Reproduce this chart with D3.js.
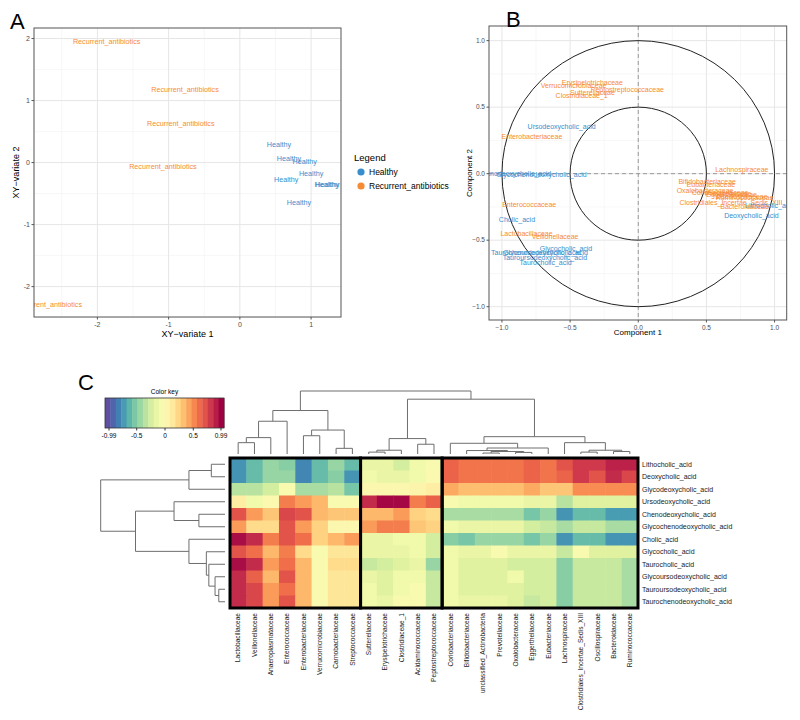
<!DOCTYPE html>
<html><head><meta charset="utf-8">
<script src="https://cdn.jsdelivr.net/npm/d3@7/dist/d3.min.js"></script>
<style>body{margin:0;background:#fff} svg{font-family:"Liberation Sans",Arial,sans-serif}</style>
</head><body><svg id="c" width="800" height="720"></svg>
<script>
// ---------- Panel A data ----------
const aGroups = ["Healthy", "Recurrent_antibiotics"];
const aColors = ["#388ECC", "#F68B33"];
const aHealthyX = [0.55, 0.69, 0.91, 1.00, 0.65, 1.22, 1.23, 0.83];
const aHealthyY = [0.29, 0.07, 0.02, -0.18, -0.27, -0.35, -0.355, -0.64];
const aRecurX = [-1.87, -0.77, -0.83, -1.08, -2.69];
const aRecurY = [1.96, 1.18, 0.63, -0.06, -2.29];
const aTicksX = [-2, -1, 0, 1];
const aTicksY = [-2, -1, 0, 1, 2];

// ---------- Panel B data ----------
const bNames = ["Erysipelotrichaceae","Verrucomicrobiaceae","Peptostreptococcaceae","Sutterellaceae","Clostridiaceae_1",
  "Ursodeoxycholic_acid","Enterobacteriaceae","Chenodeoxycholic_acid","Glycochenodeoxycholic_acid",
  "Lachnospiraceae","Bifidobacteriaceae","Eubacteriaceae","Oxalobacteraceae","Coriobacteriaceae","Prevotellaceae",
  "Eggerthellaceae","Oscillospiraceae","Ruminococcaceae","Clostridiales_Incertae_Sedis_XIII","Lithocholic_acid",
  "Bacteroidaceae","Deoxycholic_acid","Enterococcaceae","Cholic_acid","Lactobacillaceae","Veillonellaceae",
  "Glycocholic_acid","Taurochenodeoxycholic_acid","Glycoursodeoxycholic_acid","Tauroursodeoxycholic_acid","Taurocholic_acid"];
const bX = [-0.337,-0.474,-0.08,-0.336,-0.415, -0.562,-0.78,-0.91,-0.71, 0.76,0.506,0.533,0.49,0.60,0.66,
  0.685,0.76,0.78,0.68,0.966, 0.78,0.83,-0.80,-0.89,-0.82,-0.61, -0.53,-0.75,-0.68,-0.685,-0.68];
const bY = [0.687,0.666,0.629,0.608,0.589, 0.355,0.282,0.005,-0.006, 0.032,-0.062,-0.081,-0.124,-0.145,-0.147,
  -0.157,-0.17,-0.182,-0.22,-0.237, -0.25,-0.318,-0.23,-0.345,-0.45,-0.47, -0.563,-0.596,-0.595,-0.63,-0.67];
const bType = [1,1,1,1,1, 0,1,0,0, 1,1,1,1,1,1, 1,1,1,1,0, 1,0,1,0,1,1, 0,0,0,0,0];
const bTicks = [-1, -0.5, 0, 0.5, 1];
const bRadii = [1, 0.5];

// ---------- Panel C data ----------
const rowNames = ["Lithocholic_acid","Deoxycholic_acid","Glycodeoxycholic_acid","Ursodeoxycholic_acid",
  "Chenodeoxycholic_acid","Glycochenodeoxycholic_acid","Cholic_acid","Glycocholic_acid","Taurocholic_acid",
  "Glycoursodeoxycholic_acid","Tauroursodeoxycholic_acid","Taurochenodeoxycholic_acid"];
const colNames = ["Lactobacillaceae","Veillonellaceae","Anaeroplasmataceae","Enterococcaceae","Enterobacteriaceae",
  "Verrucomicrobiaceae","Carnobacteriaceae","Streptococcaceae",
  "Sutterellaceae","Erysipelotrichaceae","Clostridiaceae_1","Acidaminococcaceae","Peptostreptococcaceae",
  "Coriobacteriaceae","Bifidobacteriaceae","unclassified_Actinobacteria","Prevotellaceae","Oxalobacteraceae",
  "Eggerthellaceae","Eubacteriaceae","Lachnospiraceae","Clostridiales_Incertae_Sedis_XIII","Oscillospiraceae",
  "Bacteroidaceae","Ruminococcaceae"];
const heat = [
 [-0.75,-0.6,-0.45,-0.5,-0.8,-0.6,-0.45,-0.6,  -0.15,-0.15,-0.25,-0.1,-0.05,  0.64,0.58,0.58,0.58,0.58,0.64,0.58,0.7,0.8,0.8,0.88,0.88],
 [-0.75,-0.6,-0.45,-0.45,-0.8,-0.6,-0.5,-0.75, -0.1,-0.15,-0.15,-0.1,0.0,    0.64,0.58,0.58,0.58,0.58,0.64,0.58,0.64,0.8,0.7,0.85,0.75],
 [-0.35,-0.35,-0.25,-0.05,-0.4,-0.4,-0.35,-0.55, 0.02,0.02,0.02,0.05,0.1,   0.4,0.33,0.33,0.33,0.33,0.4,0.3,0.3,0.5,0.5,0.5,0.5],
 [0.1,-0.1,0.0,0.55,0.45,0.35,-0.05,-0.05,   0.85,0.97,0.97,0.55,0.65,   -0.05,-0.1,-0.1,-0.1,-0.1,-0.15,-0.15,-0.35,-0.2,-0.2,-0.2,-0.2],
 [0.7,0.45,0.3,0.75,0.7,0.35,0.3,0.3,        0.35,0.35,0.45,0.25,0.2,    -0.4,-0.4,-0.4,-0.4,-0.4,-0.55,-0.45,-0.75,-0.6,-0.6,-0.72,-0.72],
 [0.45,0.2,0.2,0.7,0.45,0.25,0.02,0.02,      0.45,0.55,0.55,0.3,0.25,    -0.1,-0.15,-0.15,-0.15,-0.15,-0.25,-0.3,-0.4,-0.3,-0.3,-0.4,-0.4],
 [0.95,0.85,0.55,0.7,0.6,0.25,0.35,0.45,     -0.15,-0.15,-0.1,-0.1,-0.25, -0.5,-0.55,-0.45,-0.45,-0.45,-0.55,-0.45,-0.75,-0.6,-0.6,-0.75,-0.75],
 [0.7,0.6,0.35,0.55,0.2,-0.05,0.15,0.15,     -0.15,-0.15,-0.15,-0.1,-0.25, -0.1,-0.15,-0.15,-0.05,-0.15,-0.15,-0.15,-0.3,-0.05,-0.2,-0.2,-0.2],
 [0.95,0.85,0.45,0.6,0.35,-0.02,0.2,0.2,     -0.3,-0.25,-0.2,-0.15,-0.45, -0.1,-0.2,-0.2,-0.2,-0.25,-0.25,-0.25,-0.5,-0.3,-0.3,-0.3,-0.4],
 [0.85,0.65,0.35,0.7,0.35,-0.02,0.15,0.15,   -0.15,-0.2,-0.1,-0.1,-0.3,  -0.1,-0.2,-0.2,-0.2,-0.1,-0.25,-0.25,-0.5,-0.3,-0.3,-0.3,-0.4],
 [0.85,0.75,0.45,0.6,0.35,-0.02,0.15,0.15,   -0.1,-0.2,-0.1,-0.05,-0.3,  -0.1,-0.2,-0.2,-0.2,-0.2,-0.25,-0.25,-0.5,-0.3,-0.3,-0.3,-0.4],
 [0.85,0.75,0.45,0.7,0.35,-0.02,0.15,0.15,   -0.1,-0.15,-0.05,-0.05,-0.3, -0.1,-0.15,-0.15,-0.15,-0.2,-0.3,-0.25,-0.5,-0.3,-0.3,-0.3,-0.4]
];
const colBlocks = [8, 5, 12];
// dendrograms: [height, left, right]; leaves are indices
const colTree = [10,
  [6.9, [5.2, [2.6, [1.8, 0, 1], 2], 3], [3.8, [2.9, 4, 5], [0.9, 6, 7]]],
  [8.7, [2.45, [0.6, [0.3, 8, 9], 10], [1.55, 11, 12]],
        [2.75, [1.7, 13, [0.95, [0.55, 14, [0.4, [0.15, 15, 16], [0.25, 17, 18]]], 19]],
               [1.8, 20, [0.6, [0.3, 21, 22], [0.4, 23, 24]]]]]];
const rowTree = [10,
  [2.9, [1.1, 0, 1], 2],
  [7.2, [4.1, 3, [2.1, 4, 5]], [2.9, 6, [1.5, 7, [1.3, 8, [0.8, 9, [0.5, 10, 11]]]]]]];
const keyTicks = [-0.99, -0.5, 0, 0.5, 0.99];
const keyLabels = ["-0.99", "-0.5", "0", "0.5", "0.99"];

// ---------- drawing ----------
const svg = d3.select("#c");
const tickCol = "#4d4d4d";

function panelLetter(t, x, y) {
  svg.append("text").attr("x", x).attr("y", y).attr("font-size", 22).attr("fill", "#000").text(t);
}

// Panel A
(function () {
  const L = 34, R = 341, T = 28, B = 317;
  const x = d3.scaleLinear().domain([-2.89, 1.42]).range([L, R]);
  const y = d3.scaleLinear().domain([-2.49, 2.17]).range([B, T]);
  const g = svg.append("g");
  g.append("clipPath").attr("id", "clipA").append("rect").attr("x", L).attr("y", T).attr("width", R - L).attr("height", B - T);
  const minorX = [-2.5, -1.5, -0.5, 0.5], minorY = [-2.5, -1.5, -0.5, 0.5, 1.5];
  g.selectAll(".mx").data(minorX).join("line").attr("x1", d => x(d)).attr("x2", d => x(d)).attr("y1", T).attr("y2", B).attr("stroke", "#f2f2f2").attr("stroke-width", 0.6);
  g.selectAll(".my").data(minorY).join("line").attr("y1", d => y(d)).attr("y2", d => y(d)).attr("x1", L).attr("x2", R).attr("stroke", "#f2f2f2").attr("stroke-width", 0.6);
  g.selectAll(".gx").data(aTicksX).join("line").attr("x1", d => x(d)).attr("x2", d => x(d)).attr("y1", T).attr("y2", B).attr("stroke", "#e6e6e6").attr("stroke-width", 1);
  g.selectAll(".gy").data(aTicksY).join("line").attr("y1", d => y(d)).attr("y2", d => y(d)).attr("x1", L).attr("x2", R).attr("stroke", "#e6e6e6").attr("stroke-width", 1);
  const lab = g.append("g").attr("clip-path", "url(#clipA)").attr("font-size", 7.2).attr("text-anchor", "middle").attr("dominant-baseline", "central");
  lab.selectAll(".h").data(aHealthyX).join("text").attr("x", d => x(d)).attr("y", (d, i) => y(aHealthyY[i])).attr("fill", aColors[0]).text(aGroups[0]);
  lab.selectAll(".r").data(aRecurX).join("text").attr("x", d => x(d)).attr("y", (d, i) => y(aRecurY[i])).attr("fill", aColors[1]).text(aGroups[1]);
  g.append("rect").attr("x", L).attr("y", T).attr("width", R - L).attr("height", B - T).attr("fill", "none").attr("stroke", "#555").attr("stroke-width", 1);
  // ticks
  g.selectAll(".tx").data(aTicksX).join("line").attr("x1", d => x(d)).attr("x2", d => x(d)).attr("y1", B).attr("y2", B + 2.5).attr("stroke", "#555");
  g.selectAll(".ty").data(aTicksY).join("line").attr("y1", d => y(d)).attr("y2", d => y(d)).attr("x1", L - 2.5).attr("x2", L).attr("stroke", "#555");
  g.selectAll(".lx").data(aTicksX).join("text").attr("x", d => x(d)).attr("y", B + 9.5).attr("text-anchor", "middle").attr("font-size", 7).attr("fill", tickCol).text(d => d);
  g.selectAll(".ly").data(aTicksY).join("text").attr("x", L - 4).attr("y", d => y(d) + 2.5).attr("text-anchor", "end").attr("font-size", 7).attr("fill", tickCol).text(d => d);
  g.append("text").attr("x", (L + R) / 2).attr("y", 337).attr("text-anchor", "middle").attr("font-size", 9).text("XY\u2212variate 1");
  g.append("text").attr("transform", `translate(19,${(T + B) / 2}) rotate(-90)`).attr("text-anchor", "middle").attr("font-size", 9).text("XY\u2212variate 2");
  // legend
  g.append("text").attr("x", 354).attr("y", 161).attr("font-size", 9.5).text("Legend");
  aGroups.forEach((n, i) => {
    g.append("circle").attr("cx", 361).attr("cy", 172 + i * 14).attr("r", 3.6).attr("fill", aColors[i]);
    g.append("text").attr("x", 369).attr("y", 175 + i * 14).attr("font-size", 8.5).text(n);
  });
  panelLetter("A", 10, 29);
})();

// Panel B
(function () {
  const L = 489, R = 786.7, T = 26, B = 320;
  const x = d3.scaleLinear().domain([-1.095, 1.089]).range([L, R]);
  const y = d3.scaleLinear().domain([-1.10, 1.11]).range([B, T]);
  const g = svg.append("g");
  g.append("clipPath").attr("id", "clipB").append("rect").attr("x", L).attr("y", T).attr("width", R - L).attr("height", B - T);
  const minor = [-0.75, -0.25, 0.25, 0.75];
  g.selectAll(".mx").data(minor).join("line").attr("x1", d => x(d)).attr("x2", d => x(d)).attr("y1", T).attr("y2", B).attr("stroke", "#f2f2f2").attr("stroke-width", 0.6);
  g.selectAll(".my").data(minor).join("line").attr("y1", d => y(d)).attr("y2", d => y(d)).attr("x1", L).attr("x2", R).attr("stroke", "#f2f2f2").attr("stroke-width", 0.6);
  g.selectAll(".gx").data(bTicks).join("line").attr("x1", d => x(d)).attr("x2", d => x(d)).attr("y1", T).attr("y2", B).attr("stroke", "#e6e6e6").attr("stroke-width", 1);
  g.selectAll(".gy").data(bTicks).join("line").attr("y1", d => y(d)).attr("y2", d => y(d)).attr("x1", L).attr("x2", R).attr("stroke", "#e6e6e6").attr("stroke-width", 1);
  g.append("line").attr("x1", x(0)).attr("x2", x(0)).attr("y1", T).attr("y2", B).attr("stroke", "#9a9a9a").attr("stroke-dasharray", "4,3");
  g.append("line").attr("y1", y(0)).attr("y2", y(0)).attr("x1", L).attr("x2", R).attr("stroke", "#9a9a9a").attr("stroke-dasharray", "4,3");
  g.selectAll(".circ").data(bRadii).join("ellipse").attr("cx", x(0)).attr("cy", y(0))
    .attr("rx", d => x(d) - x(0)).attr("ry", d => y(0) - y(d)).attr("fill", "none").attr("stroke", "#222").attr("stroke-width", 1);
  const lab = g.append("g").attr("clip-path", "url(#clipB)").attr("font-size", 7).attr("text-anchor", "middle").attr("dominant-baseline", "central");
  lab.selectAll("text").data(bNames).join("text").attr("x", (d, i) => x(bX[i])).attr("y", (d, i) => y(bY[i]))
    .attr("fill", (d, i) => aColors[bType[i]]).text(d => d);
  g.append("rect").attr("x", L).attr("y", T).attr("width", R - L).attr("height", B - T).attr("fill", "none").attr("stroke", "#555").attr("stroke-width", 1);
  const fmt = d3.format(".1f");
  g.selectAll(".tx").data(bTicks).join("line").attr("x1", d => x(d)).attr("x2", d => x(d)).attr("y1", B).attr("y2", B + 2.5).attr("stroke", "#555");
  g.selectAll(".ty").data(bTicks).join("line").attr("y1", d => y(d)).attr("y2", d => y(d)).attr("x1", L - 2.5).attr("x2", L).attr("stroke", "#555");
  g.selectAll(".lx").data(bTicks).join("text").attr("x", d => x(d)).attr("y", B + 9.5).attr("text-anchor", "middle").attr("font-size", 6.5).attr("fill", tickCol).text(d => fmt(d).replace("-", "\u2212"));
  g.selectAll(".ly").data(bTicks).join("text").attr("x", L - 4).attr("y", d => y(d) + 2.3).attr("text-anchor", "end").attr("font-size", 6.5).attr("fill", tickCol).text(d => fmt(d).replace("-", "\u2212"));
  g.append("text").attr("x", (L + R) / 2).attr("y", 335).attr("text-anchor", "middle").attr("font-size", 8).text("Component  1");
  g.append("text").attr("transform", `translate(472,${(T + B) / 2}) rotate(-90)`).attr("text-anchor", "middle").attr("font-size", 8).text("Component  2");
  panelLetter("B", 506, 27);
})();

// Panel C
(function () {
  const HL = 230, HR = 638, HT = 458, HB = 608;
  const color = v => d3.interpolateSpectral((0.99 - v) / 1.98);
  const x = d3.scaleBand().domain(d3.range(colNames.length)).range([HL, HR]);
  const y = d3.scaleBand().domain(d3.range(rowNames.length)).range([HT, HB]);
  const g = svg.append("g");
  heat.forEach((row, ri) => {
    g.selectAll(".r" + ri).data(row).join("rect").attr("x", (d, ci) => x(ci)).attr("y", y(ri))
      .attr("width", x.bandwidth() + 0.5).attr("height", y.bandwidth() + 0.5).attr("fill", d => color(d));
  });
  // block borders
  let start = 0;
  colBlocks.forEach(n => {
    const x0 = x(start), x1 = x(start + n - 1) + x.bandwidth();
    g.append("rect").attr("x", x0).attr("y", HT).attr("width", x1 - x0).attr("height", HB - HT)
      .attr("fill", "none").attr("stroke", "#000").attr("stroke-width", 3);
    start += n;
  });
  // row labels
  g.selectAll(".rl").data(rowNames).join("text").attr("x", HR + 4).attr("y", (d, i) => y(i) + y.bandwidth() / 2 + 2.4)
    .attr("font-size", 7).attr("fill", "#1a1a1a").text(d => d);
  // column labels
  g.selectAll(".cl").data(colNames).join("text")
    .attr("transform", (d, i) => `translate(${x(i) + x.bandwidth() / 2 + 2.3},${HB + 5}) rotate(-90)`)
    .attr("text-anchor", "end").attr("font-size", 6.6).attr("fill", "#1a1a1a").text(d => d);
  // dendrograms
  const colH = d3.scaleLinear().domain([0, 10]).range([454, 391]);
  const rowH = d3.scaleLinear().domain([0, 10]).range([225, 100.7]);
  const dg = g.append("g").attr("stroke", "#6e6e6e").attr("stroke-width", 1).attr("fill", "none");
  function walk(node, posOf, hs, horizontal) {
    if (typeof node === "number") return { p: posOf(node), h: hs(0) };
    const a = walk(node[1], posOf, hs, horizontal), b = walk(node[2], posOf, hs, horizontal);
    const h = hs(node[0]);
    const path = horizontal
      ? `M${a.h},${a.p}H${h}V${b.p}H${b.h}`
      : `M${a.p},${a.h}V${h}H${b.p}V${b.h}`;
    dg.append("path").attr("d", path);
    return { p: (a.p + b.p) / 2, h: h };
  }
  walk(colTree, i => x(i) + x.bandwidth() / 2, colH, false);
  walk(rowTree, i => y(i) + y.bandwidth() / 2, rowH, true);
  // color key
  const kx = d3.scaleLinear().domain([-0.99, 0.99]).range([109, 221]);
  const kL = 105, kR = 224, kT = 398, kB = 428, nb = 22;
  const kb = d3.scaleLinear().domain([0, nb]).range([kL, kR]);
  const bins = d3.range(nb);
  g.selectAll(".kb").data(bins).join("rect").attr("x", d => kb(d)).attr("y", kT).attr("width", kb(1) - kb(0) + 0.4).attr("height", kB - kT)
    .attr("fill", d => color(kx.invert((kb(d) + kb(d + 1)) / 2)));
  g.append("rect").attr("x", kL).attr("y", kT).attr("width", kR - kL).attr("height", kB - kT).attr("fill", "none").attr("stroke", "#333").attr("stroke-width", 0.8);
  g.append("text").attr("x", (kL + kR) / 2).attr("y", kT - 4).attr("text-anchor", "middle").attr("font-size", 6.5).text("Color key");
  g.selectAll(".kt").data(keyTicks).join("line").attr("x1", d => kx(d)).attr("x2", d => kx(d)).attr("y1", kB).attr("y2", kB + 2.5).attr("stroke", "#333");
  g.selectAll(".kl").data(keyTicks).join("text").attr("x", d => kx(d)).attr("y", kB + 10).attr("text-anchor", "middle").attr("font-size", 6.5)
    .text((d, i) => keyLabels[i]);
  panelLetter("C", 78, 390);
})();
</script></body></html>
